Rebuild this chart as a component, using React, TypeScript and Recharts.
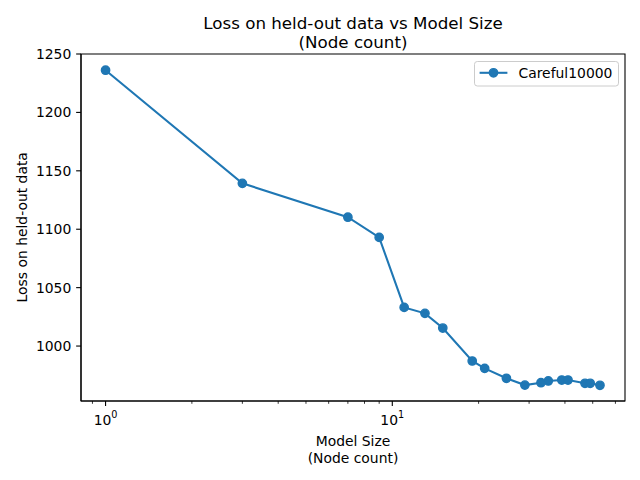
import { Legend, Line, LineChart, ReferenceArea, XAxis, YAxis } from "recharts";

const nodeCounts = [1, 3, 7, 9, 11, 13, 15, 19, 21, 25, 29, 33, 35, 39, 41, 47, 49, 53];
const losses = [
  1236.1, 1139.3, 1110.3, 1093.0, 1033.1, 1028.0, 1015.4, 987.2, 980.9, 972.4, 966.6, 968.6,
  970.1, 970.9, 970.9, 968.1, 968.1, 966.4,
];
const yTicks = [1000, 1050, 1100, 1150, 1200, 1250];
const xMajorTicks = [1, 10];
const xMinorTicks = [0.9, 2, 3, 4, 5, 6, 7, 8, 9, 20, 30, 40, 50, 60];
const seriesName = "Careful10000";

const data = nodeCounts.map((n, i) => ({ nodes: n, loss: losses[i] }));

const X_DOMAIN = [0.821, 64.8];
const Y_DOMAIN = [952.96, 1250.0];
const FONT = "DejaVu Sans, sans-serif";
const BLUE = "#1f77b4";

// matplotlib style log ticks: long ones labelled 10^n, short minor ones unlabelled
const XTick = (props: any) => {
  const { x, y, payload } = props;
  const major = xMajorTicks.includes(payload.value);
  return (
    <g>
      <line
        x1={x}
        x2={x}
        y1={y}
        y2={y + (major ? 4.9 : 2.8)}
        stroke="#000"
        strokeWidth={major ? 1.1 : 0.8}
      />
      {major && (
        <text x={x} y={y + 24} textAnchor="middle" fontSize={13.9} fontFamily={FONT} fill="#000">
          10
          <tspan dy={-7} fontSize={9.7}>
            {Math.round(Math.log10(payload.value))}
          </tspan>
        </text>
      )}
    </g>
  );
};

const LegendBox = (props: any) => {
  const item = props.payload?.[0];
  return (
    <svg width={146} height={26} style={{ display: "block" }}>
      <rect x={0.5} y={0.5} width={144} height={24.5} rx={2.8} fill="#fff" fillOpacity={0.8} stroke="#cccccc" />
      <line x1={5.6} x2={33.4} y1={11.8} y2={11.8} stroke={BLUE} strokeWidth={2.08} />
      <circle cx={19.5} cy={11.8} r={4.17} fill={BLUE} stroke={BLUE} strokeWidth={1.39} />
      <text x={44.5} y={16.6} fontSize={13.9} fontFamily={FONT} fill="#000">
        {item ? item.value : seriesName}
      </text>
    </svg>
  );
};

export default function App() {
  return (
    <div style={{ position: "absolute", left: 0, top: 0, width: 640, height: 480, background: "#fff" }}>
      <LineChart width={640} height={480} data={data} margin={{ top: 54, right: 15, left: 0, bottom: 0 }}>
        <XAxis
          dataKey="nodes"
          type="number"
          scale="log"
          domain={X_DOMAIN}
          allowDataOverflow
          ticks={[...xMinorTicks, ...xMajorTicks].sort((a, b) => a - b)}
          interval={0}
          height={79}
          tickSize={0}
          tickMargin={0}
          tickLine={false}
          tick={<XTick />}
          axisLine={{ stroke: "#000", strokeWidth: 1.1 }}
        />
        <YAxis
          type="number"
          domain={Y_DOMAIN}
          allowDataOverflow
          ticks={yTicks}
          width={81}
          tickSize={4.86}
          tickMargin={4.86}
          tick={{ fill: "#000", fontSize: 13.9, fontFamily: FONT }}
          tickLine={{ stroke: "#000", strokeWidth: 1.1 }}
          axisLine={{ stroke: "#000", strokeWidth: 1.1 }}
        />
        {/* axes frame (top and right spines) */}
        <ReferenceArea
          x1={X_DOMAIN[0]}
          x2={X_DOMAIN[1]}
          y1={Y_DOMAIN[0]}
          y2={Y_DOMAIN[1]}
          fill="none"
          fillOpacity={0}
          stroke="#000"
          strokeWidth={1.1}
          strokeOpacity={1}
          ifOverflow="visible"
        />
        <Legend
          layout="horizontal"
          verticalAlign="middle"
          align="center"
          content={<LegendBox />}
          wrapperStyle={{ left: 474, top: 60.6, width: 146, height: 26 }}
        />
        <Line
          type="linear"
          dataKey="loss"
          name={seriesName}
          stroke={BLUE}
          strokeWidth={2.08}
          dot={{ r: 4.17, fill: BLUE, stroke: BLUE, strokeWidth: 1.39 }}
          activeDot={false}
          isAnimationActive={false}
        />
      </LineChart>
      <svg
        width={640}
        height={480}
        style={{ position: "absolute", left: 0, top: 0, pointerEvents: "none" }}
        fontFamily={FONT}
      >
        <text x={353} y={29.4} textAnchor="middle" fontSize={16.7} fill="#000">
          Loss on held-out data vs Model Size
        </text>
        <text x={353} y={47.6} textAnchor="middle" fontSize={16.7} fill="#000">
          (Node count)
        </text>
        <text x={353} y={446} textAnchor="middle" fontSize={13.9} fill="#000">
          Model Size
        </text>
        <text x={353} y={463} textAnchor="middle" fontSize={13.9} fill="#000">
          (Node count)
        </text>
        <text
          x={0}
          y={0}
          transform="translate(26.5 227.3) rotate(-90)"
          textAnchor="middle"
          fontSize={13.9}
          fill="#000"
        >
          Loss on held-out data
        </text>
      </svg>
    </div>
  );
}
